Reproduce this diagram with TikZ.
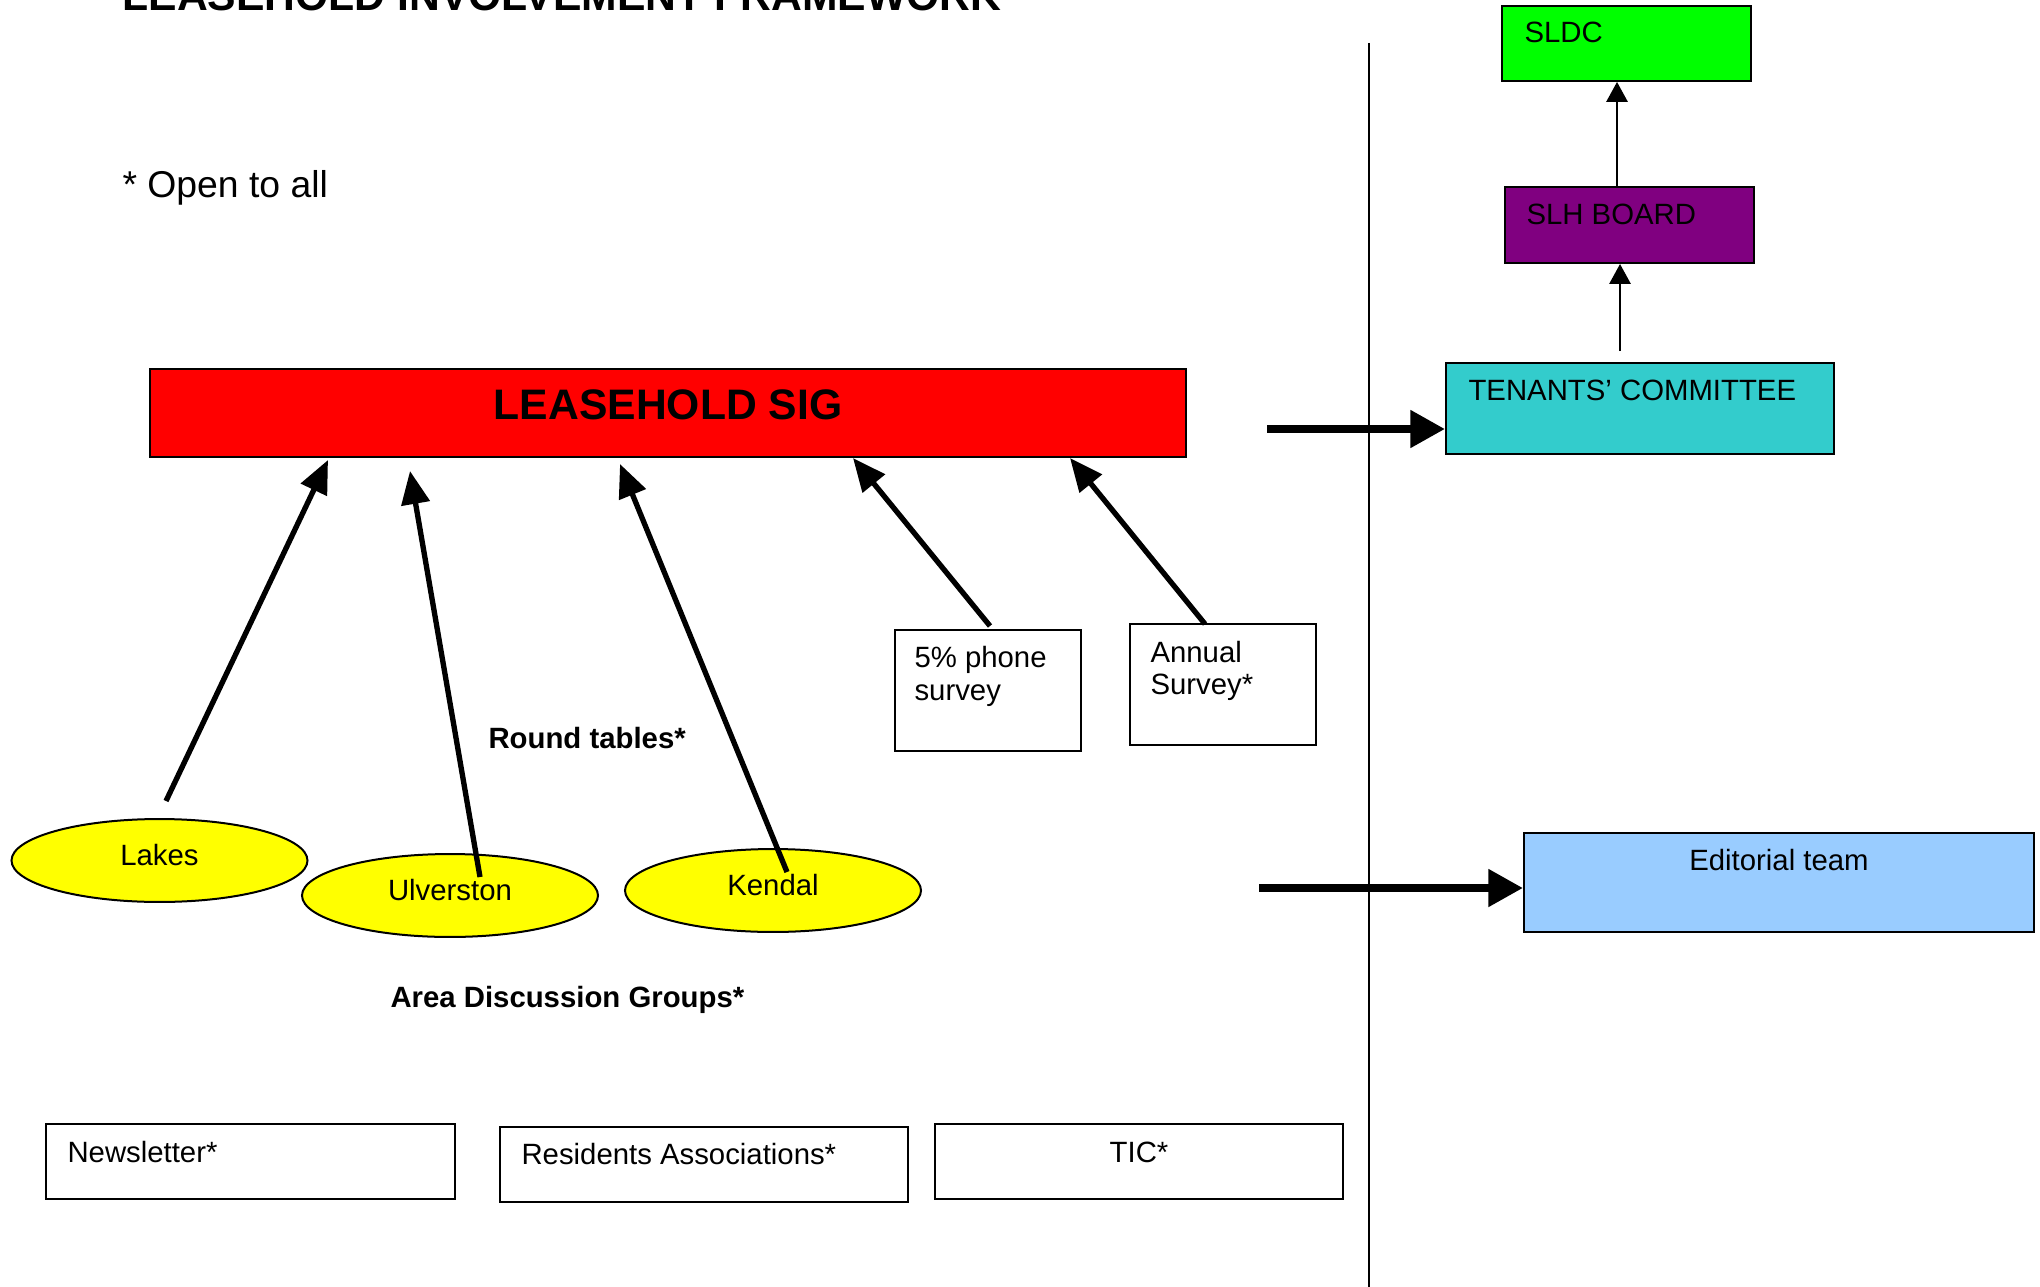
\documentclass[tikz,border=0pt]{standalone}
\usepackage{fontspec}
\setmainfont{Liberation Sans}
\usetikzlibrary{arrows.meta,shapes.geometric}
\definecolor{sldcgreen}{HTML}{00FF00}
\definecolor{slhpurple}{HTML}{800080}
\definecolor{tccyan}{HTML}{33CCCC}
\definecolor{edblue}{HTML}{99CCFF}
\definecolor{sigred}{HTML}{FF0000}
\definecolor{adgyellow}{HTML}{FFFF00}
\begin{document}
\begin{tikzpicture}[x=0.375pt,y=-0.375pt,
  box/.style={draw=black, line width=0.75pt, rectangle, inner sep=0pt},
  oval/.style={draw=black, line width=0.75pt, ellipse, inner sep=0pt, fill=adgyellow,
    minimum width=111pt, minimum height=31.1pt, text height=8pt, text depth=4.2pt,
    font=\fontsize{11}{13}\selectfont},
  txt/.style={anchor=base west, inner sep=0pt, font=\fontsize{11}{13}\selectfont},
  ctxt/.style={anchor=base, inner sep=0pt, font=\fontsize{11}{13}\selectfont},
  thinarrow/.style={line width=0.75pt, -{Triangle[length=7.5pt,width=8pt]}},
  midarrow/.style={line width=2pt, -{Triangle[length=12.4pt,width=10.5pt]}},
  bigarrow/.style={line width=3pt, -{Triangle[length=13pt,width=13.5pt]}}
]
\useasboundingbox (0,0) rectangle (2040,1287);
\clip (0,0) rectangle (2040,1287);

% title and note
\node[anchor=base west, inner sep=0pt, font=\fontsize{16}{19}\selectfont\bfseries] (title) at (122,11) {LEASEHOLD INVOLVEMENT FRAMEWORK};
\node[anchor=base west, inner sep=0pt, font=\fontsize{14}{17}\selectfont] (note) at (122,198) {* Open to all};

% divider
\coordinate (vt) at (1369,43);
\coordinate (vb) at (1369,1287);
\draw[line width=0.75pt] (vt) -- (vb);

% right column
\node[box, fill=sldcgreen, minimum width=93.4pt, minimum height=28.1pt] (sldc) at (1626.5,43.5) {};
\node[txt] (sldct) at (1524,43) {SLDC};
\node[box, fill=slhpurple, minimum width=93.4pt, minimum height=28.5pt] (slh) at (1629.5,225) {};
\node[txt] (slht) at (1526,225) {SLH BOARD};
\node[box, fill=tccyan, minimum width=145.5pt, minimum height=34.1pt] (tc) at (1640,408.5) {};
\node[txt] (tct) at (1468,400) {TENANTS’ COMMITTEE};
\node[box, fill=edblue, minimum width=191.25pt, minimum height=37.1pt] (ed) at (1779,882.5) {};
\node[ctxt] (edt) at (1779,870) {Editorial team};

% SIG
\node[box, fill=sigred, minimum width=388.5pt, minimum height=33pt] (sig) at (668,413) {};
\node[anchor=base, inner sep=0pt, font=\fontsize{16}{19}\selectfont\bfseries] (sigt) at (668,419) {LEASEHOLD SIG};

% surveys
\node[box, fill=white, minimum width=69.75pt, minimum height=45.4pt] (phone) at (988,690.5) {};
\node[txt] (phonet1) at (914,667) {5\% phone};
\node[txt] (phonet2) at (914,700) {survey};
\node[box, fill=white, minimum width=69.75pt, minimum height=45.4pt] (annual) at (1223,684.5) {};
\node[txt] (annualt1) at (1150,662) {Annual};
\node[txt] (annualt2) at (1150,694) {Survey*};

\node[txt, font=\fontsize{11}{13}\selectfont\bfseries] (round) at (488,748) {Round tables*};

% area groups
\node[oval] (lakes) at (159.5,860.5) {Lakes};
\node[oval] (ulv) at (450,895.5) {Ulverston};
\node[oval] (kendal) at (773,890.5) {Kendal};
\node[txt, font=\fontsize{11}{13}\selectfont\bfseries] (area) at (390,1007) {Area Discussion Groups*};

% bottom boxes
\node[box, minimum width=153.4pt, minimum height=28.1pt] (news) at (250.5,1161.5) {};
\node[txt] (newst) at (67,1162) {Newsletter*};
\node[box, minimum width=153pt, minimum height=28.1pt] (res) at (704,1164.5) {};
\node[txt] (rest) at (521,1164) {Residents Associations*};
\node[box, minimum width=153pt, minimum height=28.1pt] (tic) at (1139,1161.5) {};
\node[ctxt] (tict) at (1139,1162) {TIC*};

% arrows up the right column
\coordinate (a1s) at (1617,187);
\draw[thinarrow] (a1s) -- (a1s |- sldc.south);
\coordinate (a2s) at (1620,351);
\draw[thinarrow] (a2s) -- (a2s |- slh.south);

% thick horizontal arrows
\coordinate (a3s) at (1267,429);
\draw[bigarrow] (a3s) -- (a3s -| tc.west);
\coordinate (a4s) at (1259,888);
\draw[bigarrow] (a4s) -- (a4s -| ed.west);

% arrows into SIG
\coordinate (lks) at (166,801);
\coordinate (lke) at (328,460);
\draw[midarrow] (lks) -- (lke);
\coordinate (uls) at (480,877);
\coordinate (ule) at (410,471);
\draw[midarrow] (uls) -- (ule);
\coordinate (kds) at (787,872);
\coordinate (kde) at (620,464);
\draw[midarrow] (kds) -- (kde);
\coordinate (phs) at (990,626);
\coordinate (phe) at (853,458);
\draw[midarrow] (phs) -- (phe);
\coordinate (ans) at (1205,624);
\coordinate (ane) at (1070,458);
\draw[midarrow] (ans) -- (ane);
\end{tikzpicture}
\end{document}
